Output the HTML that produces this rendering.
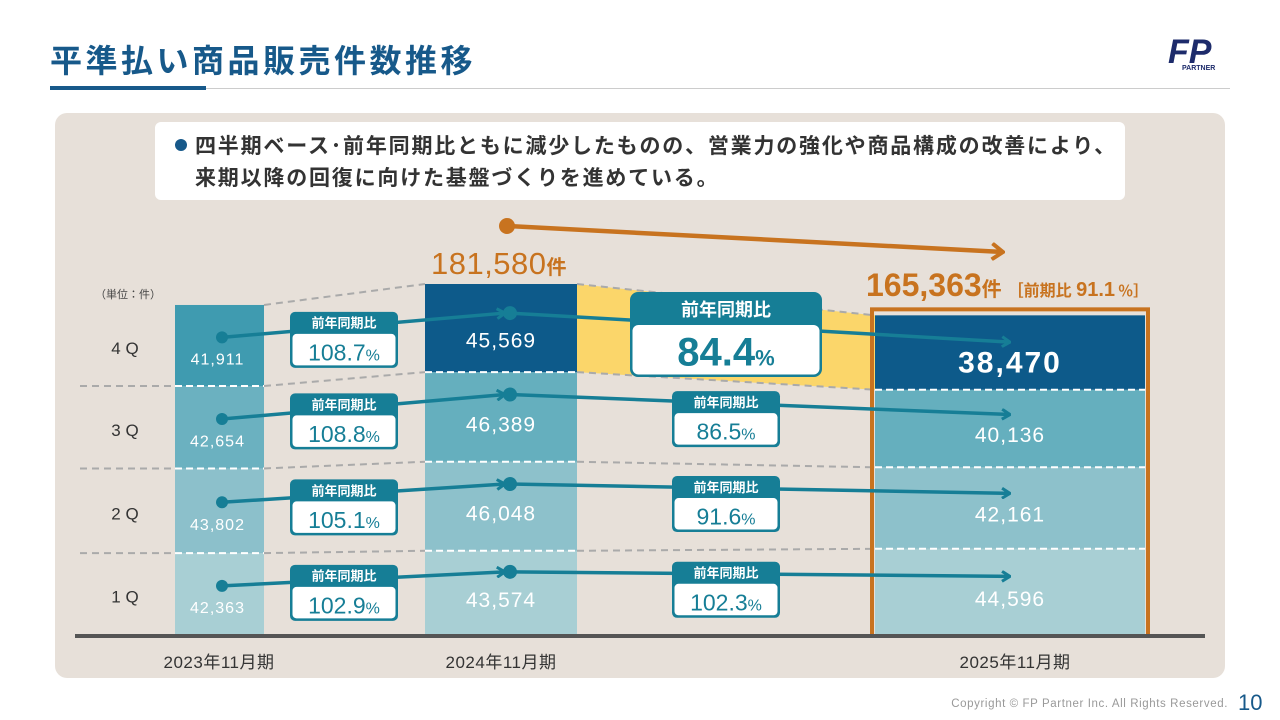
<!DOCTYPE html>
<html><head><meta charset="utf-8">
<style>
html,body{margin:0;padding:0;width:1280px;height:720px;background:#fff;overflow:hidden;font-family:"Liberation Sans","Noto Sans CJK JP",sans-serif;}
svg{position:absolute;left:0;top:0}
text{font-family:"Liberation Sans","Noto Sans CJK JP",sans-serif;}
</style></head><body>
<svg width="1280" height="720" viewBox="0 0 1280 720">
  <text x="50" y="72" font-size="32" font-weight="bold" fill="#17598a" letter-spacing="3.5">平準払い商品販売件数推移</text>
  <rect x="50" y="86" width="156" height="4" fill="#17598a"/>
  <rect x="206" y="88" width="1024" height="1" fill="#ccc"/>
  <g>
    <text x="1168" y="63" font-size="34" font-weight="bold" font-style="italic" fill="#1d2b6b">FP</text>
    <text x="1182" y="70" font-size="7" font-weight="bold" fill="#1d2b6b">PARTNER</text>
  </g>
  <rect x="55" y="113" width="1170" height="565" rx="12" fill="#e7e0d9"/>
  <rect x="155" y="122" width="970" height="78" rx="6" fill="#fff"/>
  <circle cx="181" cy="145" r="6" fill="#17598a"/>
  <text x="195" y="153" font-size="21" font-weight="bold" fill="#333" letter-spacing="1.8">四半期ベース･前年同期比ともに減少したものの、営業力の強化や商品構成の改善により、</text>
  <text x="195" y="185" font-size="21" font-weight="bold" fill="#333" letter-spacing="1.8">来期以降の回復に向けた基盤づくりを進めている。</text>
  <text x="95" y="298" font-size="11" fill="#444">（単位：件）</text>
  <g id="chart"></g>
  <text x="1228" y="707" font-size="11.5" fill="#999" letter-spacing="0.6" text-anchor="end">Copyright © FP Partner Inc. All Rights Reserved.</text>
  <text x="1238" y="710" font-size="22" fill="#17598a">10</text>
</svg>
<script>
const years = ["2023年11月期","2024年11月期","2025年11月期"];
const quarters = ["1Q","2Q","3Q","4Q"];
const q1 = [42363,43574,44596];
const q2 = [43802,46048,42161];
const q3 = [42654,46389,40136];
const q4 = [41911,45569,38470];
const yoyPrev = ["102.9","105.1","108.8","108.7"];
const yoyCurr = ["102.3","91.6","86.5","84.4"];
const totals = ["181,580","165,363"];
const periodRatio = "91.1";

const NS="http://www.w3.org/2000/svg";
const g=document.getElementById('chart');
function el(tag,attrs,parent){const e=document.createElementNS(NS,tag);for(const k in attrs)e.setAttribute(k,attrs[k]);(parent||g).appendChild(e);return e;}
function txt(x,y,s,size,fill,extra,parent){const t=el('text',Object.assign({x:x,y:y,'font-size':size,fill:fill,'text-anchor':'middle'},extra||{}),parent);t.textContent=s;return t;}
const base=635, scale=351/181580;
const yv=v=>v*scale;
const barX=[175,425,875], barW=[89,152,270];
const series=[q1,q2,q3,q4];
const colors=[["#a8cfd4","#a8cfd4","#a8cfd4"],["#8cc0cb","#8dc1cb","#8dc1cb"],["#6bb1c0","#65afbe","#65afbe"],["#3f9bb0","#0d5a8a","#0d5a8a"]];
const seg=[];
for(let b=0;b<3;b++){seg[b]=[];let y=base;for(let q=0;q<4;q++){const h=yv(series[q][b]);seg[b][q]={top:y-h,bot:y,h:h};y-=h;}}
const s1=seg[1][3],s2=seg[2][3];
const band=el('polygon',{points:`${barX[1]+barW[1]},${s1.top} ${barX[2]},${s2.top} ${barX[2]},${s2.bot} ${barX[1]+barW[1]},${s1.bot}`,fill:"#fbd66a"});


for(let b=0;b<3;b++)for(let q=0;q<4;q++){const s=seg[b][q];
 const r=el('rect',{x:barX[b],y:s.top,width:barW[b],height:s.h,fill:colors[q][b]});
 
 
}
for(let q=0;q<4;q++){
 const y0=seg[0][q].top,y1=seg[1][q].top,y2=seg[2][q].top;
 if(q<3){const d=el('line',{x1:80,y1:y0,x2:barX[0],y2:y0,stroke:"#aaa",'stroke-width':2,'stroke-dasharray':"7 5"});
  
  }
 const c1=el('line',{x1:barX[0]+barW[0],y1:y0,x2:barX[1],y2:y1,stroke:"#aaa",'stroke-width':2,'stroke-dasharray':"7 5"});
 
 
 const c2=el('line',{x1:barX[1]+barW[1],y1:y1,x2:barX[2],y2:y2,stroke:"#aaa",'stroke-width':2,'stroke-dasharray':"7 5"});
 
 
 if(q<3){for(let b=0;b<3;b++){const y=seg[b][q].top;const w=el('line',{x1:barX[b],y1:y,x2:barX[b]+barW[b],y2:y,stroke:"#fff",'stroke-width':2,'stroke-dasharray':"7 4"});
  
  }}
}
const ob=el('rect',{x:872,y:seg[2][3].top-6,width:276,height:base-seg[2][3].top+7,fill:"none",stroke:"#c8731f",'stroke-width':4});


const ax=el('rect',{x:75,y:634,width:1130,height:4,fill:"#555"});


const yearX=[219,501,1015];
for(let b=0;b<3;b++){const t=txt(yearX[b],668,years[b],17,"#333",{'letter-spacing':0.5});
 
 }
for(let q=0;q<4;q++){
 const s=seg[0][q];const t=txt(125,s.top+s.h*0.55,quarters[q].replace('Q',' Q'),17,"#333",{'dominant-baseline':'middle'});
 
 
 for(let b=0;b<3;b++){const sg=seg[b][q];
  const big=(b===2&&q===3);
  const vy=b===0?sg.top+sg.h*0.68:sg.top+sg.h*(q===3?0.66:0.6);
  const v=txt(barX[b]+barW[b]/2+(b===0?-2:0),vy,series[q][b].toLocaleString('en-US'),b===0?16:(big?30:21),"#fff",{'dominant-baseline':'middle','font-weight':big?'bold':'normal','letter-spacing':big?2:1});
  
  }
}
const teal="#167e96";
el('defs',{}).innerHTML='<marker id="ah" markerWidth="10" markerHeight="12" refX="9" refY="6" orient="auto" markerUnits="userSpaceOnUse"><path d="M1,1 L9,6 L1,11" fill="none" stroke="'+teal+'" stroke-width="3"/></marker><marker id="oh" markerWidth="14" markerHeight="18" refX="12" refY="9" orient="auto" markerUnits="userSpaceOnUse"><path d="M1,1 L12,9 L1,17" fill="none" stroke="#c8731f" stroke-width="4"/></marker>';
function yoyBox(cx,cy,w,label,val,big,name){
 const gg=el('g',{});
 
 
 const hh=big?33:22,bh=big?52:34;
 el('rect',{x:cx-w/2,y:cy,width:w,height:hh+bh,rx:big?8:5,fill:teal},gg);
 el('rect',{x:cx-w/2+2.5,y:cy+hh,width:w-5,height:bh-2.5,rx:big?6:4,fill:"#fff"},gg);
 txt(cx,cy+hh*0.72,label,big?18:13,"#fff",{'font-weight':'bold'},gg);
 const t=txt(cx,cy+hh+bh*0.78,'',big?40:23,teal,{'font-weight':big?'bold':'normal'},gg);
 t.innerHTML=val+'<tspan font-size="'+(big?22:16)+'">%</tspan>';
}
for(let q=0;q<4;q++){
 const a=seg[0][q],b=seg[1][q],c=seg[2][q];
 const y0=a.top+a.h*0.4,y1=b.top+b.h*(q===3?0.33:0.25),y2=c.top+c.h*(q===3?0.36:0.32);
 const l1=el('line',{x1:222,y1:y0,x2:505,y2:y1,stroke:teal,'stroke-width':3.5,'marker-end':'url(#ah)'});
 
 
 const l2=el('line',{x1:510,y1:y1,x2:1010,y2:y2,stroke:teal,'stroke-width':3.5,'marker-end':'url(#ah)'});
 
 
 const d1=el('circle',{cx:222,cy:y0,r:6,fill:teal});
 
 
 const d2=el('circle',{cx:510,cy:y1,r:7,fill:teal});
 
 
 const ly=y0+(y1-y0)*(344-222)/(505-222);
 yoyBox(344,ly-15,108,'前年同期比',yoyPrev[q],false,'yoy-2024-'+quarters[q].toLowerCase());
 if(q<3){const ly2=y1+(y2-y1)*(726-510)/500;yoyBox(726,ly2-12,108,'前年同期比',yoyCurr[q],false,'yoy-2025-'+quarters[q].toLowerCase());}
 else yoyBox(726,292,192,'前年同期比',yoyCurr[q],true,'yoy-2025-4q-highlight');
}
const oa=el('line',{x1:507,y1:226,x2:1003,y2:252,stroke:"#c8731f",'stroke-width':4.5,'marker-end':'url(#oh)'});


const od=el('circle',{cx:507,cy:226,r:8,fill:"#c8731f"});


const t1=txt(499,274,'',31,"#c8731f",{'letter-spacing':0.5});
t1.innerHTML=totals[0]+'<tspan font-size="20" font-weight="bold">件</tspan>';


const t2=txt(866,296,'',32,"#c8731f",{'text-anchor':'start','font-weight':'bold'});
t2.innerHTML=totals[1]+'<tspan font-size="20">件</tspan><tspan font-size="16" dx="6">［前期比 </tspan><tspan font-size="20">'+periodRatio+'</tspan><tspan font-size="15" dx="3">％］</tspan>';


</script>
</body></html>
